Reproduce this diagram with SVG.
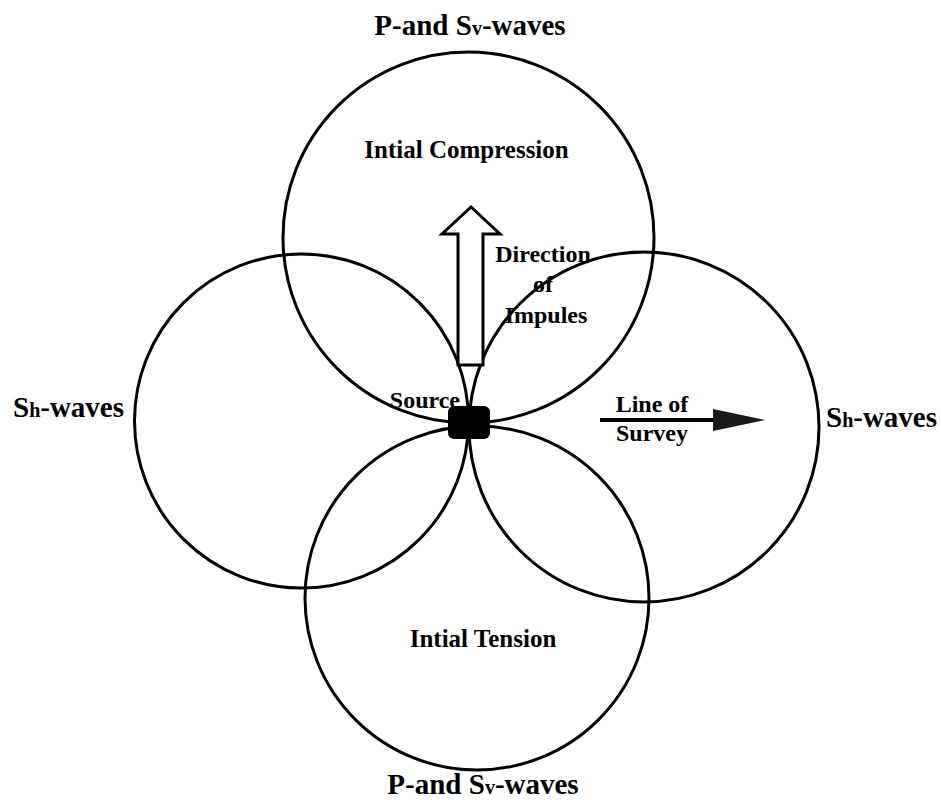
<svg xmlns="http://www.w3.org/2000/svg" width="941" height="800" viewBox="0 0 941 800">
<style>
.c{fill:none;stroke:#000;stroke-width:3}
.t{font-family:"Liberation Serif","Times New Roman",serif;font-weight:bold;fill:#000}
.big{font-size:29px}
.mid{font-size:25px}
.sm{font-size:24px}
</style>
<rect width="941" height="800" fill="#fff"/>
<g id="circle-top"><circle class="c" cx="468.5" cy="237.5" r="185.5"/></g>
<g id="circle-left"><circle class="c" cx="301.5" cy="421" r="167"/></g>
<g id="circle-right"><circle class="c" cx="644" cy="427" r="175"/></g>
<g id="circle-bottom"><circle class="c" cx="477" cy="598" r="172"/></g>
<g id="connectors">
<path d="M458,365 L458,234 L442,234 L471,207 L500,234 L483,234 L483,365 Z" fill="#fff" stroke="#000" stroke-width="3" stroke-linejoin="miter"/>
<line x1="600" y1="420" x2="715" y2="420" stroke="#000" stroke-width="4"/>
<polygon points="713,409 765,420 713,431" fill="#1a1a1a"/>
</g>
<g id="source"><rect x="448" y="406" width="42" height="33" rx="6" fill="#000"/>
<text class="t sm" x="460" y="408" text-anchor="end">Source</text></g>
<g id="label-top"><text class="t big" x="470" y="35" text-anchor="middle">P-and S<tspan font-size="20">v</tspan>-waves</text></g>
<g id="label-bottom"><text class="t big" x="483" y="794" text-anchor="middle">P-and S<tspan font-size="20">v</tspan>-waves</text></g>
<g id="label-left"><text class="t big" x="13" y="417">S<tspan font-size="20">h</tspan>-waves</text></g>
<g id="label-right"><text class="t big" x="826" y="427">S<tspan font-size="20">h</tspan>-waves</text></g>
<g id="label-compression"><text class="t mid" x="466.5" y="158" text-anchor="middle">Intial Compression</text></g>
<g id="label-tension"><text class="t mid" x="483" y="647" text-anchor="middle">Intial Tension</text></g>
<g id="label-direction"><text class="t sm" text-anchor="middle"><tspan x="543" y="262">Direction</tspan><tspan x="543" y="292">of</tspan><tspan x="546" y="323">Impules</tspan></text></g>
<g id="label-survey"><text class="t sm" text-anchor="middle"><tspan x="652" y="412">Line of</tspan><tspan x="652" y="441">Survey</tspan></text></g>
</svg>
